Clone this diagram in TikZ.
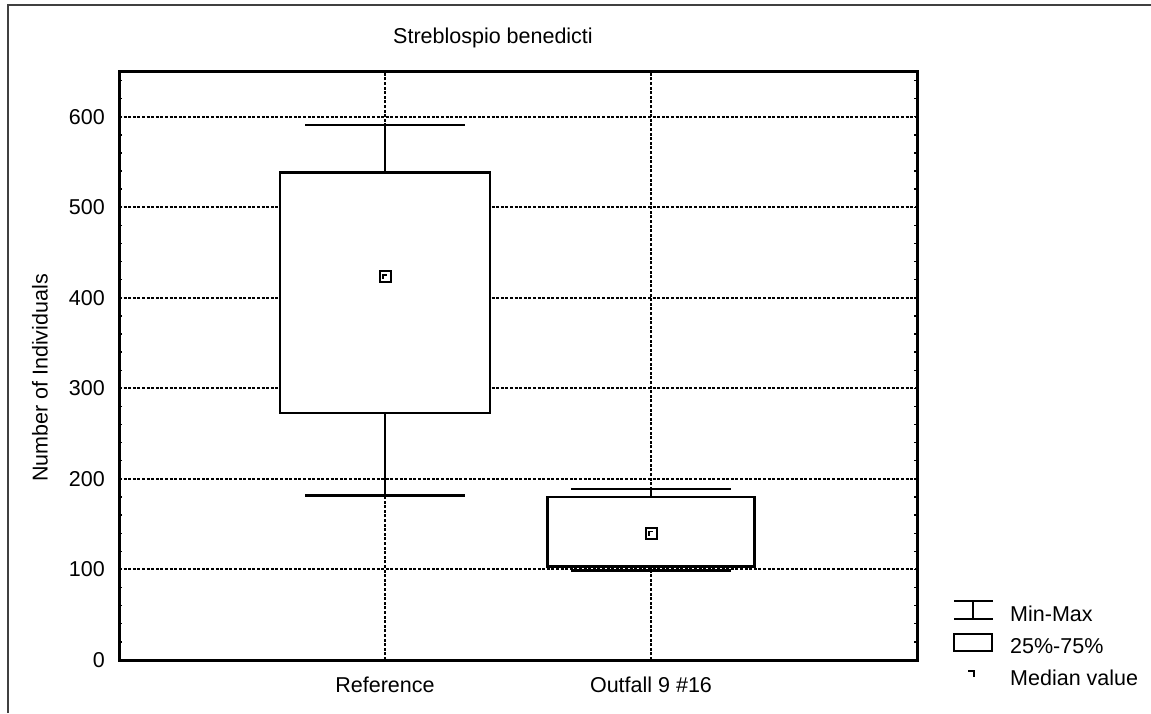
\documentclass[tikz,border=0pt]{standalone}
\usepackage{fontspec}
\setmainfont{Liberation Sans}
\begin{document}
\begin{tikzpicture}[x=1pt,y=-1pt,
    lbl/.style={font=\fontsize{21.5}{26}\selectfont, inner sep=0pt},
    gridline/.style={line width=2pt, dash pattern=on 3pt off 1.6pt},
    bx/.style={line width=2.6pt},
    medmark/.style={draw, line width=2pt, fill=white, minimum size=11pt, inner sep=0pt}]
  \useasboundingbox (0,0) rectangle (1151,713);
  % outer frame (cut at the page edge)
  \draw[line width=2pt, black!75] (8,713) -- (8,5) -- (1151,5);
  \node[lbl, anchor=base west] (title) at (393,43) {Streblospio benedicti};
  \node[lbl, rotate=90] (ylabel) at (40,378) {Number of Individuals};
  \begin{scope}[shift={(119pt,-660pt)}, x=266pt, y=0.9055pt]
    % grid
    \foreach \v in {100,200,...,600}
      \draw[gridline] (0,\v) -- (3,\v);
    \foreach \u in {1,2}
      \draw[gridline] (\u,0) -- (\u,650);
    % minor ticks
    \foreach \v in {20,40,...,640} {
      \draw[line width=1.4pt] (0,\v) -- ++(3pt,0);
      \draw[line width=1.4pt] (3,\v) -- ++(-3pt,0);
    }
    \draw[line width=3pt] (0,0) rectangle (3,650);
    \foreach \v in {0,100,...,600}
      \node[lbl, anchor=east] (tick\v) at ([xshift=-14pt]0,\v) {\v};
    \node[lbl, anchor=base] (xref) at ([yshift=-32pt]1,0) {Reference};
    \node[lbl, anchor=base] (xout) at ([yshift=-32pt]2,0) {Outfall 9 \#16};
    % Reference
    \draw[bx] (1,538.6) -- (1,591) (0.7,591) -- (1.3,591);
    \draw[bx] (1,273) -- (1,182) (0.7,182) -- (1.3,182);
    \draw[bx, fill=white] (0.605,273) rectangle (1.395,538.6);
    \node[medmark] (medref) at (1,423) {};
    \draw[line width=1.4pt] ([shift={(-2pt,-2pt)}]medref.center) -- ([shift={(-2pt,2pt)}]medref.center) -- ([shift={(2pt,2pt)}]medref.center);
    % Outfall 9 #16
    \draw[bx] (2,180) -- (2,189) (1.7,189) -- (2.3,189);
    \draw[bx] (2,103) -- (2,99) (1.7,99) -- (2.3,99);
    \draw[bx, fill=white] (1.61,103) rectangle (2.39,180);
    \node[medmark] (medout) at (2,139.5) {};
    \draw[line width=1.4pt] ([shift={(-2pt,-2pt)}]medout.center) -- ([shift={(-2pt,2pt)}]medout.center) -- ([shift={(2pt,2pt)}]medout.center);
  \end{scope}
  % legend
  \draw[line width=2.2pt] (954,601) -- (993,601) (954,619) -- (993,619) (973,601) -- (973,619);
  \draw[line width=2.2pt] (954,634) rectangle (992,651);
  \draw[line width=1.6pt] (968,671) -- (974,671) -- (974,677);
  \node[lbl, anchor=base west] (legmm) at (1010,621) {Min-Max};
  \node[lbl, anchor=base west] (legq) at (1010,653) {25\%-75\%};
  \node[lbl, anchor=base west] (legmed) at (1010,685) {Median value};
\end{tikzpicture}
\end{document}
